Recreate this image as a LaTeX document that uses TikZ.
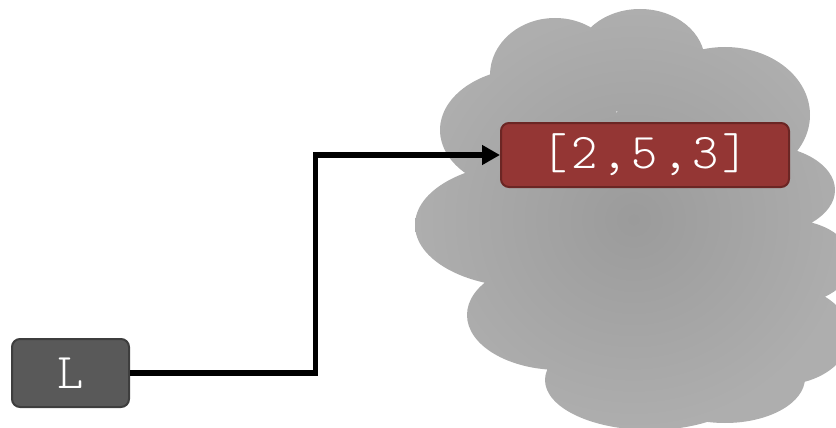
\documentclass[tikz,border=0pt]{standalone}
\usepackage{fontspec}
\setmonofont{Latin Modern Mono Light}[LetterSpace=8]
\usetikzlibrary{arrows.meta,positioning}
\definecolor{boksgraa}{HTML}{595959}
\definecolor{boksrand}{HTML}{3E3E3E}
\definecolor{roed}{HTML}{943634}
\definecolor{roedrand}{HTML}{6B2624}
\definecolor{skyinde}{HTML}{9B9B9B}
\definecolor{skyude}{HTML}{AEAEAE}
\tikzset{>={Triangle[length=18pt,width=19pt]},
    punkt/.style={rectangle, rounded corners=8pt, line width=2pt,
                    text=white, font=\ttfamily\fontsize{50}{50}\selectfont,
                    inner sep=0pt, text centered},
    pil/.style={->, line width=5.5pt, line join=miter}}

\begin{document}
\begin{tikzpicture}[x=1pt,y=-1pt]
            \useasboundingbox (0,0) rectangle (836,428);
            \clip (0,0) rectangle (836,428);
            % sky
            \shade[inner color=skyinde, outer color=skyude]
                (555,75) ellipse (65 and 57)
                (640,62) ellipse (65 and 53)
                (725,115) ellipse (85 and 68)
                (530,130) ellipse (90 and 62)
                (525,225) ellipse (110 and 62)
                (760,190) ellipse (75 and 45)
                (790,262) ellipse (62 and 42)
                (780,335) ellipse (70 and 50)
                (560,315) ellipse (93 and 55)
                (650,380) ellipse (105 and 50)
                (725,378) ellipse (80 and 45)
                (645,240) ellipse (150 and 130);

            \node[punkt, fill=boksgraa, draw=boksrand,
                  minimum width=117pt, minimum height=68pt]
                (L) at (70.5,373) {L};
            \node[punkt, fill=roed, draw=roedrand,
                  minimum width=288pt, minimum height=64pt]
                (liste) at (645,155) {[2,5,3]};

            \coordinate (knick) at (315.5,373);
            \draw[pil] (L.east) -- (knick) |- (liste.west);
        \end{tikzpicture}
\end{document}
